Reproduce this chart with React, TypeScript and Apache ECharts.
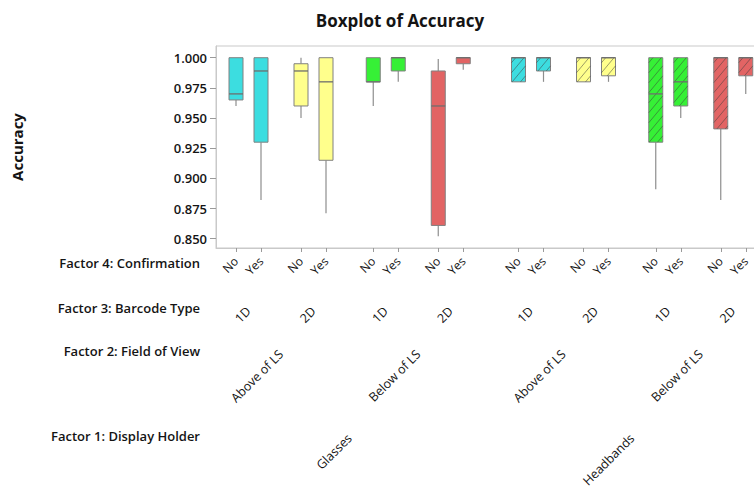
import React, { useEffect, useRef } from "react";
import * as echarts from "echarts";

// ---- factor levels (outer to inner) ----
const displayHolders = ["Glasses", "Headbands"];
const fieldsOfView = ["Above of LS", "Below of LS"];
const barcodeTypes = ["1D", "2D"];
const confirmations = ["No", "Yes"];

const factorTitles = [
  "Factor 4: Confirmation",
  "Factor 3: Barcode Type",
  "Factor 2: Field of View",
  "Factor 1: Display Holder",
];

// ---- box statistics, one per cell in the order above ----
const whiskerLow = [0.96, 0.882, 0.95, 0.871, 0.96, 0.98, 0.852, 0.99, 0.98, 0.98, 0.98, 0.98, 0.891, 0.95, 0.882, 0.97];
const quartile1 = [0.965, 0.93, 0.96, 0.915, 0.98, 0.989, 0.861, 0.995, 0.98, 0.989, 0.98, 0.985, 0.93, 0.96, 0.941, 0.985];
const medians = [0.97, 0.989, 0.989, 0.98, 0.98, 1.0, 0.96, 1.0, 1.0, 1.0, 1.0, 1.0, 0.97, 0.98, 1.0, 1.0];
const quartile3 = [1.0, 1.0, 0.995, 1.0, 1.0, 1.0, 0.989, 1.0, 1.0, 1.0, 1.0, 1.0, 1.0, 1.0, 1.0, 1.0];
const whiskerHigh = [1.0, 1.0, 1.0, 1.0, 1.0, 1.0, 0.999, 1.0, 1.0, 1.0, 1.0, 1.0, 1.0, 1.0, 1.0, 1.0];

const yTicks = [0.85, 0.875, 0.9, 0.925, 0.95, 0.975, 1.0];

// colour by (field of view, barcode type); headbands are hatched
const boxColors = ["#3CDDE0", "#FFFF8C", "#36F036", "#E26464"];

// spacing between neighbouring cells, depending on the outermost factor that changes
const STEP_CONFIRM = 1;
const STEP_BARCODE = 1.6;
const STEP_FIELD = 1.89;
const STEP_HOLDER = 2.21;

type Cell = { pos: number; h: number; f: number; b: number; c: number };

function buildCells(): Cell[] {
  const cells: Cell[] = [];
  let pos = 0;
  let prev: Cell | null = null;
  for (let h = 0; h < displayHolders.length; h++)
    for (let f = 0; f < fieldsOfView.length; f++)
      for (let b = 0; b < barcodeTypes.length; b++)
        for (let c = 0; c < confirmations.length; c++) {
          if (prev) {
            if (prev.h !== h) pos += STEP_HOLDER;
            else if (prev.f !== f) pos += STEP_FIELD;
            else if (prev.b !== b) pos += STEP_BARCODE;
            else pos += STEP_CONFIRM;
          }
          const cell = { pos, h, f, b, c };
          cells.push(cell);
          prev = cell;
        }
  return cells;
}

export default function App() {
  const ref = useRef<HTMLDivElement>(null);

  useEffect(() => {
    if (!ref.current) return;
    const chart = echarts.init(ref.current, null, { renderer: "svg" });
    const cells = buildCells();

    const center = (list: Cell[]) => (list[0].pos + list[list.length - 1].pos) / 2;

    const confirmLabels = cells.map((c) => ({ v: c.pos, t: confirmations[c.c] }));
    const barcodeLabels: { v: number; t: string }[] = [];
    const fieldLabels: { v: number; t: string }[] = [];
    const holderLabels: { v: number; t: string }[] = [];
    displayHolders.forEach((hn, h) => {
      holderLabels.push({ v: center(cells.filter((c) => c.h === h)), t: hn });
      fieldsOfView.forEach((fn, f) => {
        fieldLabels.push({ v: center(cells.filter((c) => c.h === h && c.f === f)), t: fn });
        barcodeTypes.forEach((bn, b) => {
          barcodeLabels.push({
            v: center(cells.filter((c) => c.h === h && c.f === f && c.b === b)),
            t: bn,
          });
        });
      });
    });

    const lookup = (arr: { v: number; t: string }[]) => (val: number) => {
      const hit = arr.find((a) => Math.abs(a.v - val) < 1e-6);
      return hit ? hit.t : "";
    };

    const xMin = -0.8;
    const xMax = 21.6;
    const textColor = "#141414";
    const font = "Open Sans";
    const frame = "#c9c9c9";

    const mkAxis = (arr: { v: number; t: string }[], offset: number, size: number, primary: boolean) => ({
      type: "value" as const,
      min: xMin,
      max: xMax,
      position: "bottom" as const,
      offset,
      splitLine: { show: false },
      axisLine: { show: primary, onZero: false, lineStyle: { color: frame, width: 1 } },
      axisTick: {
        show: primary,
        customValues: arr.map((a) => a.v),
        length: 4,
        lineStyle: { color: "#9a9a9a" },
      },
      axisLabel: {
        customValues: arr.map((a) => a.v),
        formatter: lookup(arr),
        rotate: 45,
        margin: 11,
        color: textColor,
        fontFamily: font,
        fontWeight: 500,
        fontSize: size,
      },
    });

    const data = cells.map((c, i) => [
      c.pos,
      whiskerLow[i],
      quartile1[i],
      medians[i],
      quartile3[i],
      whiskerHigh[i],
      c.f * 2 + c.b,
      c.h,
    ]);

    const option: any = {
      animation: false,
      backgroundColor: "#ffffff",
      title: {
        text: "Boxplot of Accuracy",
        left: 395,
        top: 7,
        textAlign: "center",
        textStyle: { fontFamily: font, fontWeight: 700, fontSize: 17, color: textColor },
      },
      grid: {
        left: 216,
        top: 46,
        width: 560,
        height: 202,
        show: true,
        borderColor: frame,
        borderWidth: 1,
        outerBoundsMode: "none",
        containLabel: false,
      },
      xAxis: [
        mkAxis(confirmLabels, 0, 12, true),
        mkAxis(barcodeLabels, 50, 12.5, false),
        mkAxis(fieldLabels, 93, 12.5, false),
        mkAxis(holderLabels, 177, 12.5, false),
      ],
      yAxis: {
        type: "value",
        min: 0.8423,
        max: 1.0097,
        name: "Accuracy",
        nameLocation: "middle",
        nameRotate: 90,
        nameGap: 192,
        nameTextStyle: { fontFamily: font, fontWeight: 700, fontSize: 15, color: textColor },
        axisLine: { show: true, onZero: false, lineStyle: { color: frame, width: 1 } },
        splitLine: { show: false },
        axisTick: {
          show: true,
          customValues: yTicks,
          length: 6,
          lineStyle: { color: "#9a9a9a" },
        },
        axisLabel: {
          customValues: yTicks,
          formatter: (v: number) => v.toFixed(3),
          margin: 9,
          color: textColor,
          fontFamily: font,
          fontWeight: 600,
          fontSize: 13,
        },
      },
      graphic: factorTitles.map((t, i) => ({
        type: "text",
        x: 200,
        y: [263, 308, 351, 436][i],
        silent: true,
        style: {
          text: t,
          fill: textColor,
          font: `600 13px "${font}"`,
          align: "right",
          verticalAlign: "middle",
        },
      })),
      series: [
        {
          type: "custom",
          xAxisIndex: 0,
          yAxisIndex: 0,
          encode: { x: 0, y: 3 },
          silent: true,
          data,
          renderItem: (_params: any, api: any) => {
            const x = api.value(0);
            const cx = api.coord([x, api.value(3)])[0];
            const yLo = api.coord([x, api.value(1)])[1];
            const yQ1 = api.coord([x, api.value(2)])[1];
            const yMed = api.coord([x, api.value(3)])[1];
            const yQ3 = api.coord([x, api.value(4)])[1];
            const yHi = api.coord([x, api.value(5)])[1];
            const fill = boxColors[api.value(6)];
            const hatched = api.value(7) === 1;
            const hw = 7;
            const stroke = "#808080";
            const children: any[] = [];
            if (yLo - yQ1 > 0.5)
              children.push({
                type: "line",
                shape: { x1: cx, y1: yQ1, x2: cx, y2: yLo },
                style: { stroke: "#8e8e8e", lineWidth: 1.2 },
              });
            if (yQ3 - yHi > 0.5)
              children.push({
                type: "line",
                shape: { x1: cx, y1: yHi, x2: cx, y2: yQ3 },
                style: { stroke: "#8e8e8e", lineWidth: 1.2 },
              });
            children.push({
              type: "rect",
              shape: { x: cx - hw, y: yQ3, width: 2 * hw, height: yQ1 - yQ3 },
              style: { fill, stroke, lineWidth: 1 },
            });
            if (hatched) {
              const xL = cx - hw;
              const w = 2 * hw;
              const k = 1.2;
              const sp = 10;
              const yT = yQ3;
              const yB = yQ1;
              for (let c = yT + 5; c < yB + k * w; c += sp) {
                const tmin = Math.max(0, (c - yB) / (k * w));
                const tmax = Math.min(1, (c - yT) / (k * w));
                if (tmax - tmin <= 0.02) continue;
                children.push({
                  type: "line",
                  shape: {
                    x1: xL + w * tmin,
                    y1: c - k * w * tmin,
                    x2: xL + w * tmax,
                    y2: c - k * w * tmax,
                  },
                  style: { stroke: "rgba(60,60,60,0.5)", lineWidth: 1 },
                });
              }
            }
            children.push({
              type: "line",
              shape: { x1: cx - hw, y1: yMed, x2: cx + hw, y2: yMed },
              style: { stroke: "#6e6e6e", lineWidth: 1.3 },
            });
            return { type: "group", children };
          },
        },
      ],
    };

    chart.setOption(option);
    return () => chart.dispose();
  }, []);

  return (
    <div
      style={{
        position: "fixed",
        left: 0,
        top: 0,
        width: 754,
        height: 491,
        overflow: "hidden",
        background: "#fff",
      }}
    >
      <div ref={ref} style={{ width: 800, height: 491 }} />
    </div>
  );
}
